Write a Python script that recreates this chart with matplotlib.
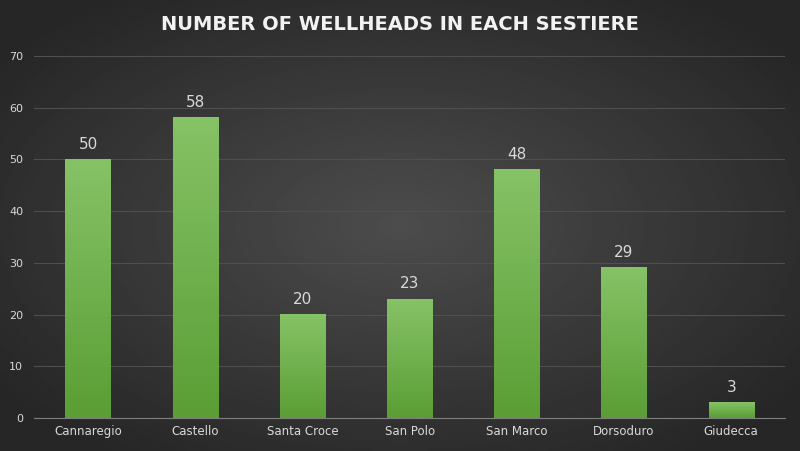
import numpy as np
import matplotlib
matplotlib.use("Agg")
import matplotlib.pyplot as plt
from matplotlib.colors import LinearSegmentedColormap

categories = ["Cannaregio", "Castello", "Santa Croce", "San Polo", "San Marco", "Dorsoduro", "Giudecca"]
values = [50, 58, 20, 23, 48, 29, 3]
yticks = [0, 10, 20, 30, 40, 50, 60, 70]
title = "NUMBER OF WELLHEADS IN EACH SESTIERE"

fig = plt.figure(figsize=(8, 4.51), dpi=100)
bg = fig.add_axes([0, 0, 1, 1], zorder=-10)
yy, xx = np.mgrid[-1:1:200j, -1:1:360j]
r = np.sqrt(xx**2 + yy**2)
img = np.clip(0.30 - 0.12 * r, 0.15, 0.30)
bg.imshow(img, cmap="gray", vmin=0, vmax=1, aspect="auto", extent=[0, 1, 0, 1])
bg.axis("off")

ax = fig.add_axes([0.043, 0.073, 0.938, 0.803])
ax.set_facecolor("none")
ax.set_yticks(yticks)
ax.tick_params(axis="y", colors="#d9d9d9", labelsize=8, length=0, pad=8)
ax.tick_params(axis="x", colors="#d9d9d9", labelsize=8.5, length=0, pad=5)
ax.set_xticks(range(len(categories)))
ax.set_xticklabels(categories)
ax.grid(axis="y", color="#4f4f4f", linewidth=0.8)
ax.set_axisbelow(True)
for s in ["top", "right", "left"]:
    ax.spines[s].set_visible(False)
ax.spines["bottom"].set_color("#7f7f7f")

w = 0.42
grad = np.linspace(1, 0, 100).reshape(-1, 1)
cmap = LinearSegmentedColormap.from_list("g", ["#5a9e35", "#86c266"])
for i, v in enumerate(values):
    ax.imshow(grad, cmap=cmap, aspect="auto", extent=[i - w / 2, i + w / 2, 0, v], zorder=2)
    ax.text(i, v + 1.5, str(v), ha="center", va="bottom", color="#d9d9d9", fontsize=11)
ax.set_xlim(-0.5, len(categories) - 0.5)
ax.set_ylim(0, 70)

fig.text(0.5, 0.945, title, ha="center", va="center", color="#f2f2f2",
         fontsize=14, fontweight="bold")
fig.savefig("out.png", dpi=100)
